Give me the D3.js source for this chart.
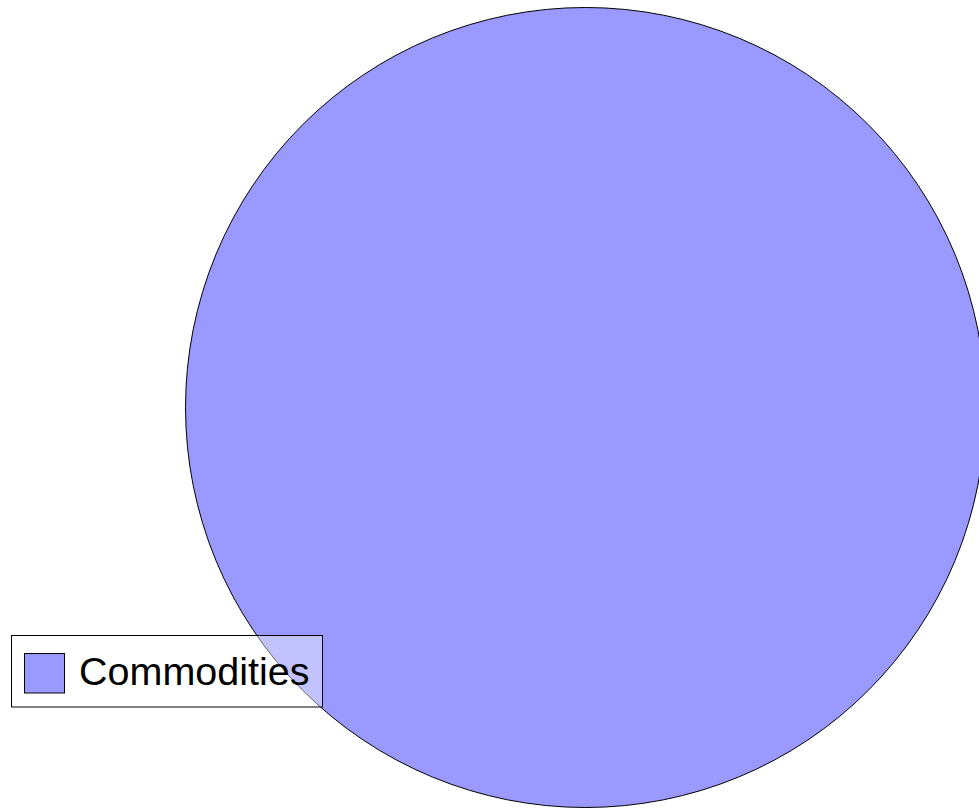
<!DOCTYPE html>
<html><head><meta charset="utf-8">
<script src="https://cdn.jsdelivr.net/npm/d3@7"></script>
<style>html,body{margin:0;padding:0;background:#fff;}svg{display:block;}</style>
</head><body>
<svg id="chart" width="979" height="808"></svg>
<script>
const categories = ["Commodities"];
const values = [100];
const colors = ["#9999ff"];

const svg = d3.select("#chart");
const cx = 585.5, cy = 407.5, r = 400;
const pie = d3.pie().sort(null).value(d => d.value);
const data = categories.map((c, i) => ({name: c, value: values[i], color: colors[i]}));
const arc = d3.arc().innerRadius(0).outerRadius(r);
const g = svg.append("g").attr("transform", `translate(${cx},${cy})`);
const arcs = pie(data);
if (data.length === 1) {
  g.append("circle").datum(arcs[0]).attr("r", r).attr("fill", d => d.data.color)
    .attr("stroke", "#000").attr("stroke-width", 1);
} else {
  g.selectAll("path").data(arcs).join("path")
    .attr("d", arc).attr("fill", d => d.data.color)
    .attr("stroke", "#000").attr("stroke-width", 1);
}

// legend
const lg = svg.append("g");
lg.append("rect").attr("x", 11.5).attr("y", 635.5).attr("width", 311).attr("height", 71.5)
  .attr("fill", "#fff").attr("fill-opacity", 0.4).attr("stroke", "#000").attr("stroke-width", 1);
data.forEach((d, i) => {
  lg.append("rect").attr("x", 24.5).attr("y", 653.5).attr("width", 40).attr("height", 39.5)
    .attr("fill", d.color).attr("stroke", "#000").attr("stroke-width", 1);
  lg.append("text").attr("x", 79).attr("y", 685).attr("font-family", "Liberation Sans, Arial, sans-serif")
    .attr("font-size", 39.5).attr("fill", "#000").text(d.name);
});
</script>
</body></html>
